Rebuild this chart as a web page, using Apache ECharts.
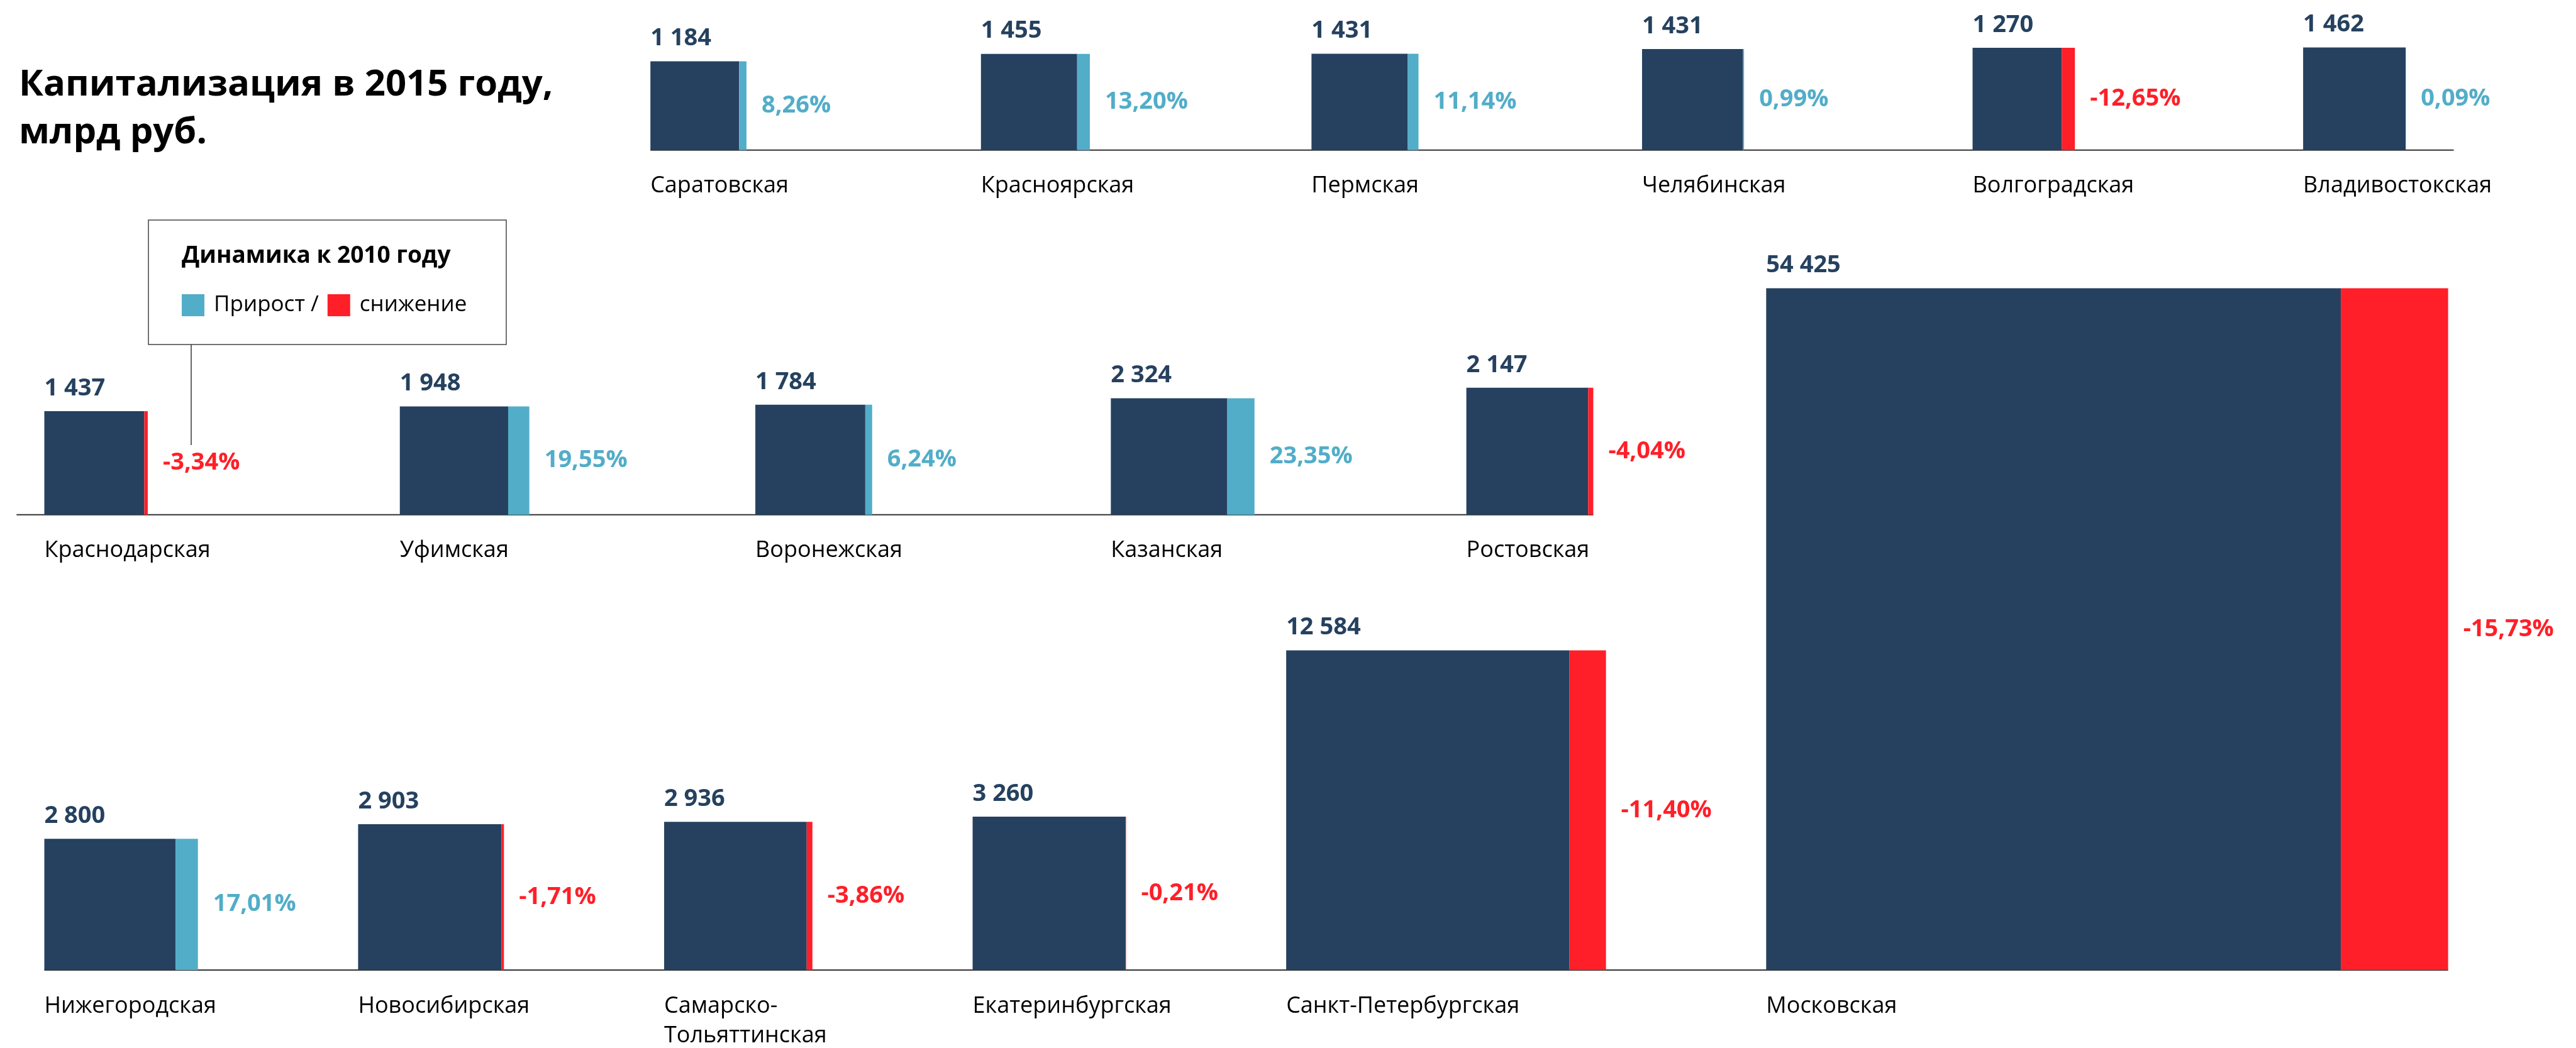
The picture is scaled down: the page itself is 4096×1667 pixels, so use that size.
<!DOCTYPE html>
<html><head><meta charset="utf-8">
<script src="https://cdn.jsdelivr.net/npm/echarts@6/dist/echarts.min.js"></script>
<style>html,body{margin:0;padding:0;background:#fff}#c{width:4096px;height:1667px}</style>
</head><body><div id="c"></div>
<script>
// ---- data: capitalization 2015 (bln rub) and change vs 2010 (%) ----
const row1Names = ['Саратовская','Красноярская','Пермская','Челябинская','Волгоградская','Владивостокская'];
const row1Values = [1184, 1455, 1431, 1431, 1270, 1462];
const row1Changes = [8.26, 13.20, 11.14, 0.99, -12.65, 0.09];

const row2Names = ['Краснодарская','Уфимская','Воронежская','Казанская','Ростовская'];
const row2Values = [1437, 1948, 1784, 2324, 2147];
const row2Changes = [-3.34, 19.55, 6.24, 23.35, -4.04];

const row3Names = ['Нижегородская','Новосибирская','Самарско-\nТольяттинская','Екатеринбургская','Санкт-Петербургская','Московская'];
const row3Values = [2800, 2903, 2936, 3260, 12584, 54425];
const row3Changes = [17.01, -1.71, -3.86, -0.21, -11.40, -15.73];

const legendNames = ['Прирост /', 'снижение'];
const titleText = 'Капитализация в 2015 году,\nмлрд руб.';
const legendTitle = 'Динамика к 2010 году';

// ---- layout (axis units = reference pixels) ----
const K = 5.025; // axis units per sqrt(bln rub)
const FONT = "'Open Sans', sans-serif";
const NAVY = '#25415F', BLUE = '#52ADC8', RED = '#FF1F28';

const rows = [
  {names: row1Names, values: row1Values, changes: row1Changes, baseY: 281, x0: 1218, step: 619, lineFrom: 1218, lineTo: 4595},
  {names: row2Names, values: row2Values, changes: row2Changes, baseY: 964, x0: 83, step: 665.75, lineFrom: 31},
  {names: row3Names, values: row3Values, changes: row3Changes, baseY: 1817, x0: 83, gap: 300, lineFrom: 83}
];

function fmtValue(v){ return String(v).replace(/\B(?=(\d{3})+(?!\d))/g, ' '); }
function fmtChange(c){ return c.toFixed(2).replace('.', ',') + '%'; }

const items = [];
const lines = [];
rows.forEach(r => {
  let cursor = r.x0;
  r.names.forEach((name, i) => {
    const v = r.values[i], c = r.changes[i];
    const side = K * Math.sqrt(v / (1 + c / 100));          // square = 2010 value
    const darkW = c >= 0 ? side : side * (1 + c / 100);
    const stripW = side * Math.abs(c) / 100;
    const x = r.step ? r.x0 + i * r.step : cursor;
    cursor = x + darkW + stripW + (r.gap || 0);
    items.push({name, v, c, x, baseY: r.baseY, darkW, stripW, h: side});
  });
  const last = items[items.length - 1];
  lines.push([r.lineFrom, r.baseY, r.lineTo || (last.x + last.darkW + last.stripW)]);
});

function rectOf(api, x0, x1, y0, y1){
  const a = api.coord([x0, y0]), b = api.coord([x1, y1]);
  return {x: Math.min(a[0], b[0]), y: Math.min(a[1], b[1]), width: Math.abs(b[0] - a[0]), height: Math.abs(b[1] - a[1])};
}

function stripRender(color){
  return function(params, api){
    const it = items[api.value(2)];
    const shape = rectOf(api, it.x + it.darkW, it.x + it.darkW + it.stripW, it.baseY, it.baseY - it.h);
    return {type: 'group', children: [
      {type: 'rect', shape, style: {fill: color}},
      {type: 'text', x: shape.x + shape.width + 24, y: shape.y + shape.height / 2,
        style: {text: fmtChange(it.c), fill: color, fontSize: 38, fontWeight: 'bold', fontFamily: FONT, align: 'left', verticalAlign: 'middle'}}
    ]};
  };
}

const idxData = items.map((it, i) => [it.x, it.baseY, i]);

const chart = echarts.init(document.getElementById('c'), null, {renderer: 'canvas'});
chart.setOption({
  animation: false,
  backgroundColor: '#fff',
  grid: {left: 0, right: 0, top: 0, bottom: 0},
  xAxis: {type: 'value', min: 0, max: 4824, show: false},
  yAxis: {type: 'value', min: 0, max: 1963, inverse: true, show: false},
  title: {text: titleText, left: 30, top: 97, padding: 0,
    textStyle: {fontSize: 58, fontWeight: 'bold', fontFamily: FONT, color: '#000', lineHeight: 76}},
  legend: {data: legendNames, left: 289, top: 468, padding: 0, itemWidth: 36, itemHeight: 35, itemGap: 14,
    icon: 'rect', selectedMode: false,
    textStyle: {fontSize: 35, fontFamily: FONT, color: '#000', padding: [0, 0, 0, 10]}},
  graphic: [
    {type: 'rect', shape: {x: 236, y: 350, width: 569, height: 198}, style: {fill: 'none', stroke: '#444', lineWidth: 1.5}},
    {type: 'line', shape: {x1: 304, y1: 548, x2: 304, y2: 708}, style: {stroke: '#333', lineWidth: 1.5}},
    {type: 'text', x: 289, y: 407, style: {text: legendTitle, fill: '#000', fontSize: 37, fontWeight: 'bold', fontFamily: FONT, align: 'left', verticalAlign: 'middle'}}
  ],
  series: [
    {type: 'custom', name: 'baselines', coordinateSystem: 'cartesian2d', silent: true, z: 1,
      data: lines,
      renderItem: (params, api) => {
        const a = api.coord([api.value(0), api.value(1)]);
        const b = api.coord([api.value(2), api.value(1)]);
        return {type: 'line', shape: {x1: a[0], y1: a[1], x2: b[0], y2: b[1]}, style: {stroke: '#333', lineWidth: 2}};
      }},
    {type: 'custom', name: 'Капитализация', coordinateSystem: 'cartesian2d', z: 2,
      itemStyle: {color: NAVY},
      data: idxData,
      renderItem: (params, api) => {
        const it = items[api.value(2)];
        const shape = rectOf(api, it.x, it.x + it.darkW, it.baseY, it.baseY - it.h);
        const base = api.coord([it.x, it.baseY]);
        return {type: 'group', children: [
          {type: 'rect', shape, style: {fill: NAVY}},
          {type: 'text', x: shape.x, y: shape.y - 36,
            style: {text: fmtValue(it.v), fill: NAVY, fontSize: 38, fontWeight: 'bold', fontFamily: FONT, align: 'left', verticalAlign: 'middle'}},
          {type: 'text', x: shape.x, y: base[1] + 34,
            style: {text: it.name, fill: '#000', fontSize: 36, fontFamily: FONT, lineHeight: 47, align: 'left', verticalAlign: 'top'}}
        ]};
      }},
    {type: 'custom', name: legendNames[0], coordinateSystem: 'cartesian2d', z: 3,
      itemStyle: {color: BLUE},
      data: idxData.filter(d => items[d[2]].c >= 0),
      renderItem: stripRender(BLUE)},
    {type: 'custom', name: legendNames[1], coordinateSystem: 'cartesian2d', z: 3,
      itemStyle: {color: RED},
      data: idxData.filter(d => items[d[2]].c < 0),
      renderItem: stripRender(RED)}
  ]
});
</script></body></html>
